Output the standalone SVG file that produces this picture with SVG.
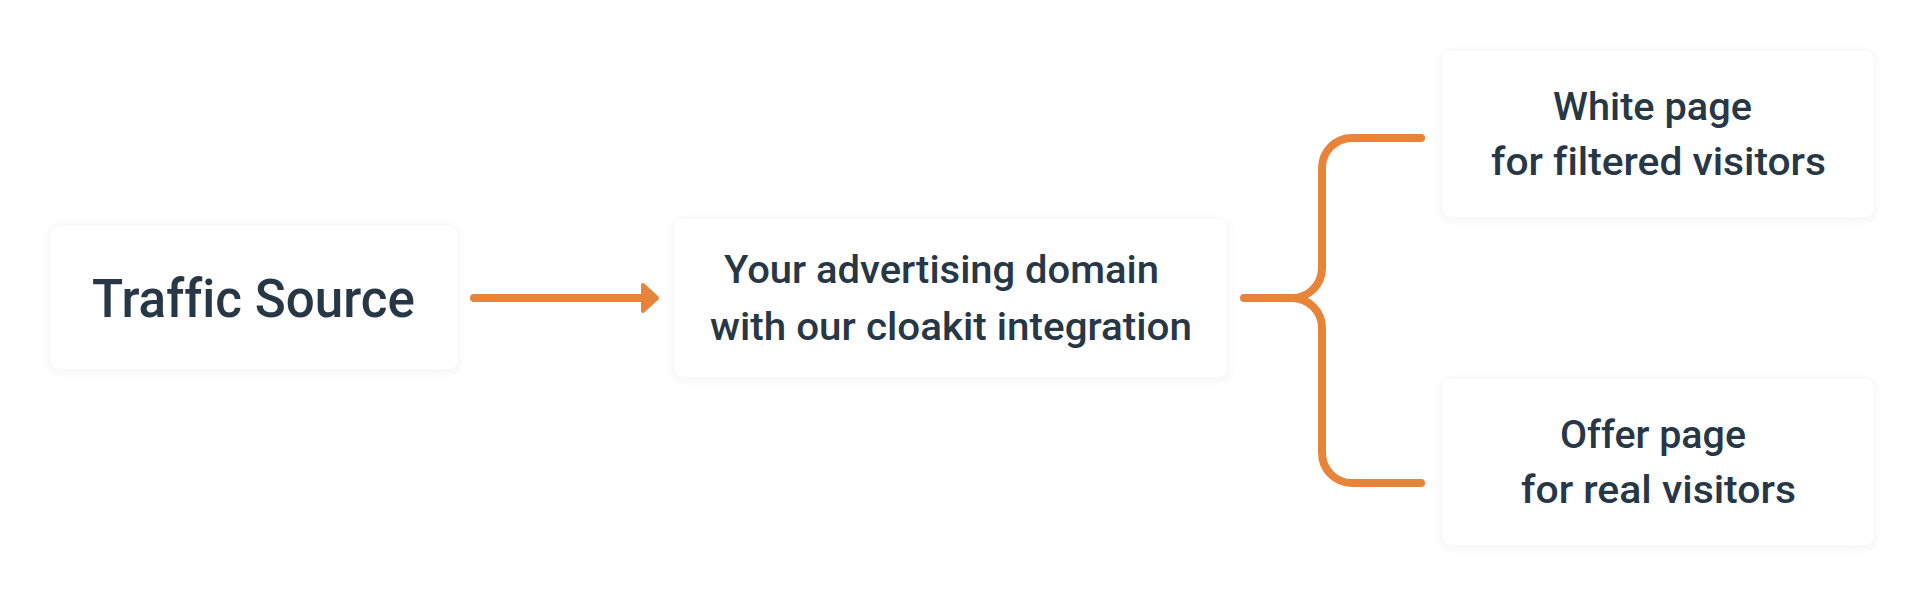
<svg xmlns="http://www.w3.org/2000/svg" width="1924" height="596" viewBox="0 0 1924 596">
<defs>
<filter id="sh" x="-10%" y="-20%" width="120%" height="140%">
<feDropShadow dx="0" dy="2" stdDeviation="5" flood-color="#1a2a3a" flood-opacity="0.05"/>
</filter>
</defs>
<style>
.box{fill:#ffffff;stroke:#f4f5f6;stroke-width:1;filter:url(#sh)}
.t{font-family:Roboto,"Liberation Sans",sans-serif;fill:#273746;font-weight:500;font-variant-ligatures:none}
.s{font-size:39px}
.l{font-size:54px}
.c{fill:none;stroke:#E8833A;stroke-width:8;stroke-linecap:round;stroke-linejoin:round}
</style>
<rect width="1924" height="596" fill="#ffffff"/>
<g id="traffic-source">
<rect class="box" x="50" y="225" width="408" height="145" rx="9"/>
<text class="t l" x="92" y="317" textLength="323" lengthAdjust="spacingAndGlyphs">Traffic Source</text>
</g>
<g id="ad-domain">
<rect class="box" x="674" y="218" width="554" height="160" rx="9"/>
<text class="t s" x="724" y="283" textLength="435" lengthAdjust="spacingAndGlyphs">Your advertising domain</text>
<text class="t s" x="710" y="340" textLength="482" lengthAdjust="spacingAndGlyphs">with our cloakit integration</text>
</g>
<g id="white-page">
<rect class="box" x="1442" y="50" width="432" height="168" rx="9"/>
<text class="t s" x="1553" y="120" textLength="199" lengthAdjust="spacingAndGlyphs">White page</text>
<text class="t s" x="1491" y="175" textLength="335" lengthAdjust="spacingAndGlyphs">for filtered visitors</text>
</g>
<g id="offer-page">
<rect class="box" x="1442" y="378" width="432" height="168" rx="9"/>
<text class="t s" x="1560" y="448" textLength="186" lengthAdjust="spacingAndGlyphs">Offer page</text>
<text class="t s" x="1521" y="503" textLength="275" lengthAdjust="spacingAndGlyphs">for real visitors</text>
</g>
<g id="connectors">
<path class="c" d="M474,298 H650"/>
<path d="M643,285 L657,298 L643,311 Z" fill="#E8833A" stroke="#E8833A" stroke-width="4" stroke-linejoin="round"/>
<path class="c" d="M1244,298 H1292 A30,30 0 0 0 1322,268 V168 A30,30 0 0 1 1352,138 H1421"/>
<path class="c" d="M1292,298 A30,30 0 0 1 1322,328 V453 A30,30 0 0 0 1352,483 H1421"/>
</g>
</svg>
